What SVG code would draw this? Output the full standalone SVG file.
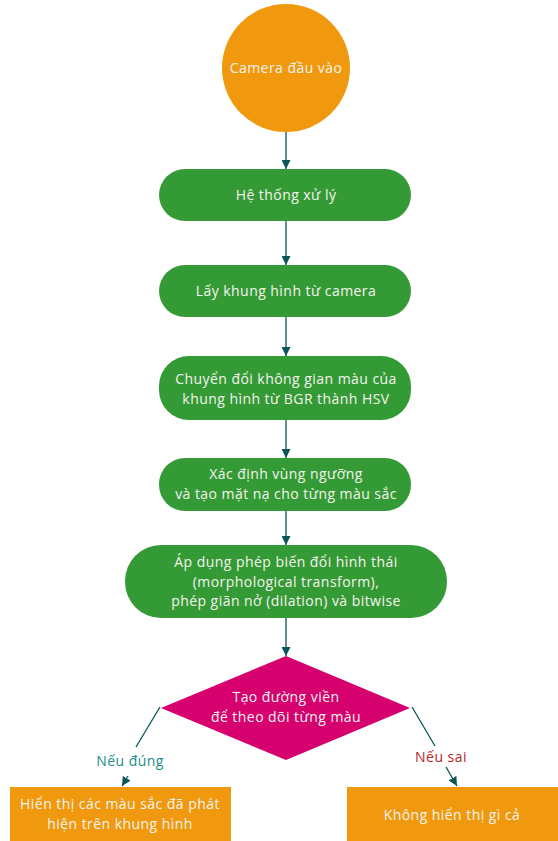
<svg xmlns="http://www.w3.org/2000/svg" width="558" height="841" viewBox="0 0 558 841">
  <defs>
    <marker id="arrow" viewBox="0 0 10 10" refX="10" refY="5" markerWidth="9" markerHeight="9" markerUnits="userSpaceOnUse" orient="auto">
      <path d="M0,0 L10,5 L0,10 Z" fill="#0b5557"/>
    </marker>
    <style>
      .edge { stroke: #0b5557; stroke-width: 1.3; fill: none; marker-end: url(#arrow); }
      .line { stroke: #0b5557; stroke-width: 1.3; fill: none; }
      .orange { fill: #f0990e; }
      .green { fill: #349a35; }
      .pink { fill: #d6006f; }
      .t { font-family: "Open Sans", "Liberation Sans", sans-serif; font-size: 14px; letter-spacing: 0.45px; fill: #f4f4ee; text-anchor: middle; }
      .lbl { font-family: "Open Sans", "Liberation Sans", sans-serif; font-size: 14px; letter-spacing: 0.45px; text-anchor: middle; }
    </style>
  </defs>
  <rect width="558" height="841" fill="#ffffff"/>

  <g id="connectors">
    <line class="edge" x1="286" y1="132" x2="286" y2="169"/>
    <line class="edge" x1="286" y1="221" x2="286" y2="265"/>
    <line class="edge" x1="286" y1="317" x2="286" y2="356"/>
    <line class="edge" x1="286" y1="420" x2="286" y2="458"/>
    <line class="edge" x1="286" y1="511" x2="286" y2="545"/>
    <line class="edge" x1="286" y1="618" x2="286" y2="656"/>
    <line class="line" x1="160" y1="707" x2="136" y2="747"/>
    <line class="edge" x1="128" y1="776" x2="122" y2="786"/>
    <line class="line" x1="412" y1="707" x2="435" y2="746"/>
    <line class="edge" x1="446" y1="767" x2="457" y2="786"/>
    <text class="lbl" x="130" y="766" fill="#1b8c8a">Nếu đúng</text>
    <text class="lbl" x="441" y="762" fill="#b1281f">Nếu sai</text>
  </g>

  <g id="camera">
    <circle class="orange" cx="286" cy="68" r="64"/>
    <text class="t" x="286" y="73">Camera đầu vào</text>
  </g>

  <g id="he-thong">
    <rect class="green" x="159" y="169" width="252" height="52" rx="26"/>
    <text class="t" x="286" y="200">Hệ thống xử lý</text>
  </g>

  <g id="lay-khung">
    <rect class="green" x="159" y="265" width="252" height="52" rx="26"/>
    <text class="t" x="286" y="296">Lấy khung hình từ camera</text>
  </g>

  <g id="chuyen-doi">
    <rect class="green" x="159" y="356" width="252" height="64" rx="30"/>
    <text class="t" x="286" y="384">Chuyển đổi không gian màu của</text>
    <text class="t" x="286" y="403.5">khung hình từ BGR thành HSV</text>
  </g>

  <g id="vung-nguong">
    <rect class="green" x="159" y="458" width="252" height="53" rx="26"/>
    <text class="t" x="286" y="479">Xác định vùng ngưỡng</text>
    <text class="t" x="286" y="498.5">và tạo mặt nạ cho từng màu sắc</text>
  </g>

  <g id="bien-doi">
    <rect class="green" x="125" y="545" width="322" height="73" rx="36"/>
    <text class="t" x="286" y="567">Áp dụng phép biến đổi hình thái</text>
    <text class="t" x="286" y="586.5">(morphological transform),</text>
    <text class="t" x="286" y="606">phép giãn nở (dilation) và bitwise</text>
  </g>

  <g id="duong-vien">
    <polygon class="pink" points="286,656 410,708 286,760 161,708"/>
    <text class="t" x="286" y="702">Tạo đường viền</text>
    <text class="t" x="286" y="721.5">để theo dõi từng màu</text>
  </g>

  <g id="hien-thi">
    <rect class="orange" x="10" y="787" width="221" height="54"/>
    <text class="t" x="120" y="809">Hiển thị các màu sắc đã phát</text>
    <text class="t" x="120" y="828.5">hiện trên khung hình</text>
  </g>

  <g id="khong-hien-thi">
    <rect class="orange" x="347" y="787" width="211" height="54"/>
    <text class="t" x="452" y="820">Không hiển thị gì cả</text>
  </g>
</svg>
